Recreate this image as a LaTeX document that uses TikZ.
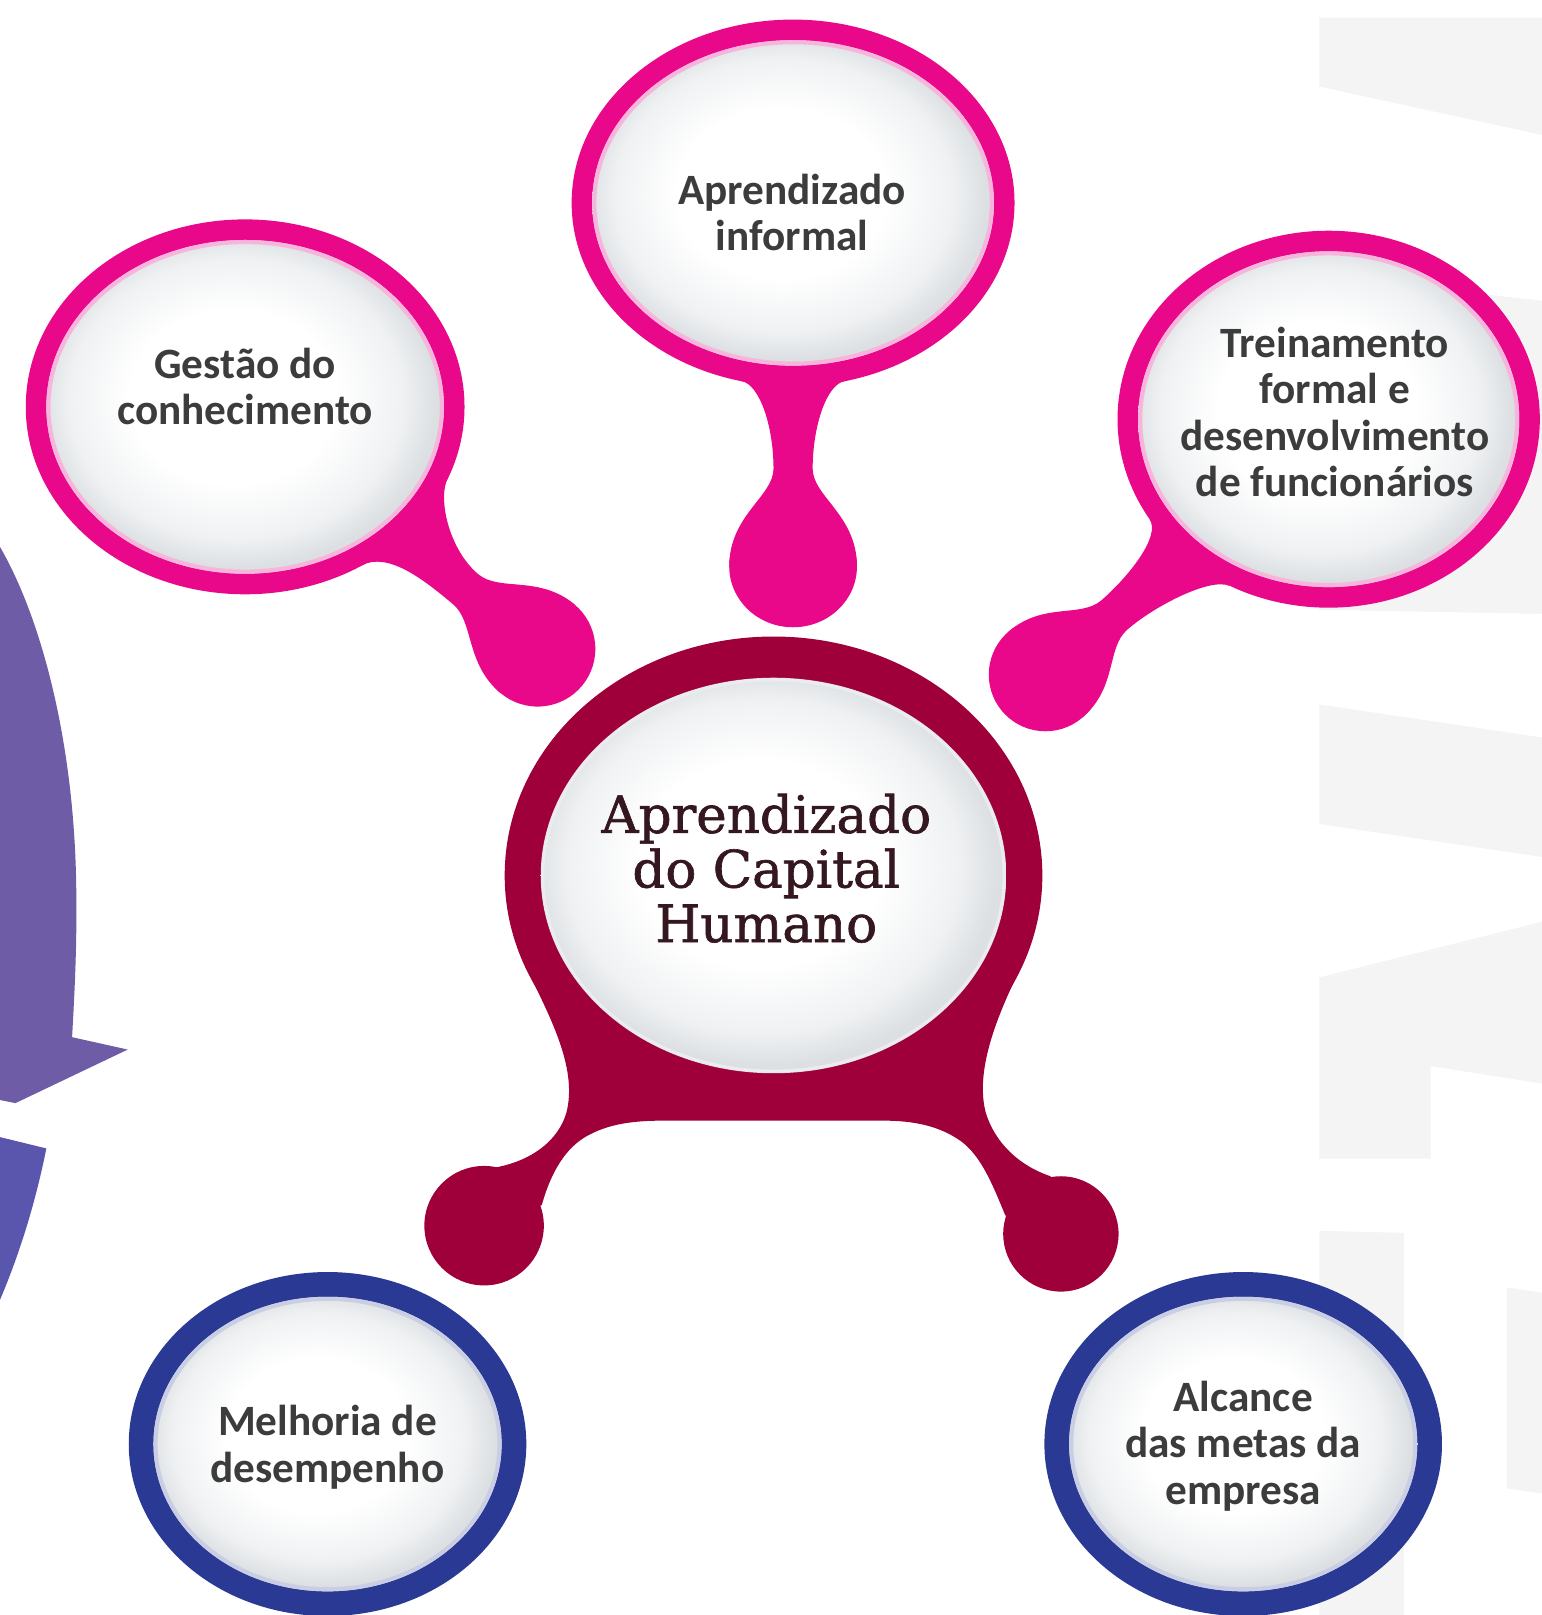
\documentclass[tikz,border=0pt]{standalone}
\usepackage{fontspec}
\setmainfont{Carlito}
\newfontfamily\slabfont[FakeBold=1.2]{DejaVu Serif}
\definecolor{pinkc}{HTML}{E9088A}
\definecolor{redc}{HTML}{A0003A}
\definecolor{bluec}{HTML}{2A3A94}
\definecolor{purpc}{HTML}{6E5CA7}
\definecolor{violc}{HTML}{5A56AE}
\definecolor{wmark}{HTML}{F4F4F4}
\definecolor{txtc}{HTML}{3C3C3C}
\definecolor{ctxt}{HTML}{35181F}
\definecolor{rimgray}{HTML}{DCE0E3}
\pgfdeclareradialshading{bubshade}{\pgfpoint{-2bp}{2bp}}{color(0bp)=(white); color(13bp)=(white); color(21bp)=(rimgray!45!white); color(25bp)=(rimgray); color(50bp)=(rimgray)}
\begin{document}
\begin{tikzpicture}[x=0.5pt,y=-0.5pt,
  btxt/.style={align=center, inner sep=0pt, text=txtc, font=\fontsize{21}{22.5}\selectfont\bfseries},
  ctxtstyle/.style={align=center, inner sep=0pt, text=ctxt, font=\slabfont\fontsize{25}{26.5}\selectfont},
  wm/.style={fill=wmark},
  innerbub/.style={shading=bubshade}]
\useasboundingbox (0,0) rectangle (1497,1568);
\fill[white] (0,0) rectangle (1497,1568);
% watermark
\fill[wm] (1281,17) -- (1497,17) -- (1497,131) -- (1281,84) -- cycle;
\fill[wm] (1281,268) -- (1497,292) -- (1497,596) -- (1281,592) -- cycle;
\fill[wm] (1281,684) -- (1497,716) -- (1497,832) -- (1281,800) -- cycle;
\fill[wm] (1281,949) -- (1497,895) -- (1497,1052) -- (1389,1035) -- (1389,1125) -- (1281,1125) -- cycle;
\fill[wm] (1281,1195) -- (1363,1197) -- (1363,1568) -- (1281,1568) -- cycle;
\fill[wm] (1463,1250) -- (1497,1255) -- (1497,1450) -- (1463,1445) -- cycle;
% purple arrow pieces
\fill[purpc] (0,531) .. controls (40,600) and (72,720) .. (74,860) .. controls (75,920) and (72,970) .. (70,1007) -- (124,1019) -- (15,1071) -- (0,1068) -- cycle;
\fill[violc] (0,1104) -- (45,1115) .. controls (35,1165) and (20,1215) .. (0,1262) -- cycle;
% centres
\coordinate (cG) at (238,395);
\coordinate (cI) at (770,197);
\coordinate (cT) at (1290,407);
\coordinate (cC) at (751,850);
\coordinate (cM) at (318,1402);
\coordinate (cA) at (1207,1402);
\coordinate (bG) at (522,630);
\coordinate (bI) at (770,550);
\coordinate (bT) at (1015,655);
\coordinate (bL) at (470,1190);
\coordinate (bR) at (1030,1198);
% pink arms (ring -> neck -> drop)
\fill[pinkc] (435,463) .. controls (424,486) and (437.4,534.9) .. (464.2,557.4)
  .. controls (484.9,574.8) and (523.5,558) .. (558,587) -- (bG) -- (486,673)
  .. controls (451.5,644) and (460.5,604) .. (439.8,586.6)
  .. controls (413,564.1) and (377,535) .. (351,549) -- cycle;
\fill[pinkc] (bG) circle[radius=28pt];
\fill[pinkc] (820,370) .. controls (802,373.5) and (789,415) .. (789,455)
  .. controls (789,482) and (832,500) .. (832,550) -- (bI) -- (708,550)
  .. controls (708,500) and (751,482) .. (751,455)
  .. controls (751,415) and (738,373.5) .. (720,370) -- cycle;
\fill[pinkc] (bI) ellipse[x radius=62,y radius=59];
\fill[pinkc] (1116,504) .. controls (1127.5,520) and (1095.9,559.7) .. (1069.5,582.7)
  .. controls (1049.1,600.4) and (1012.9,584) .. (978.9,613.5) -- (bT) -- (1051.1,696.5)
  .. controls (1085.1,667) and (1074.1,629) .. (1094.5,611.3)
  .. controls (1120.9,588.3) and (1176,560) .. (1194,569) -- cycle;
\fill[pinkc] (bT) circle[radius=27.5pt];
% pink bubbles
\fill[pinkc] (cG) ellipse[x radius=213,y radius=182];
\path[innerbub] (cG) ellipse[x radius=193,y radius=162];
\draw[pinkc!30, line width=2pt] (cG) ellipse[x radius=191,y radius=160];
\fill[pinkc] (cI) ellipse[x radius=215,y radius=178];
\path[innerbub] (cI) ellipse[x radius=195,y radius=158];
\draw[pinkc!30, line width=2pt] (cI) ellipse[x radius=193,y radius=156];
\fill[pinkc] (cT) ellipse[x radius=205,y radius=183];
\path[innerbub] (cT) ellipse[x radius=185,y radius=163];
\draw[pinkc!30, line width=2pt] (cT) ellipse[x radius=183,y radius=161];
% centre shape
\fill[redc] (516,950) .. controls (538,995) and (560,1040) .. (550,1080)
  .. controls (542,1108) and (515,1128) .. (478,1134) -- (bL) -- (526,1170)
  .. controls (533,1145) and (545,1118) .. (568,1104)
  .. controls (590,1091) and (615,1088) .. (645,1088) -- (857,1088)
  .. controls (887,1088) and (912,1093) .. (933,1108)
  .. controls (952,1122) and (963,1148) .. (976,1180) -- (bR) -- (1020,1142)
  .. controls (990,1132) and (966,1110) .. (957,1080)
  .. controls (948,1045) and (962,1000) .. (986,950) -- cycle;
\fill[redc] (bL) circle[radius=29pt];
\fill[redc] (bR) circle[radius=28pt];
\fill[redc] (cC) ellipse[x radius=261,y radius=232];
\path[innerbub] (cC) ellipse[x radius=226,y radius=192];
\draw[white!85!gray, line width=1.5pt] (cC) ellipse[x radius=224,y radius=190];
% blue bubbles
\fill[bluec] (cM) ellipse[x radius=193,y radius=167];
\path[innerbub] (cM) ellipse[x radius=169,y radius=143];
\draw[bluec!25, line width=2pt] (cM) ellipse[x radius=167,y radius=141];
\fill[bluec] (cA) ellipse[x radius=193,y radius=167];
\path[innerbub] (cA) ellipse[x radius=169,y radius=143];
\draw[bluec!25, line width=2pt] (cA) ellipse[x radius=167,y radius=141];
% texts
\node[btxt] (tgestao) at (238,375) {Gestão do\\conhecimento};
\node[btxt] (tinformal) at (769,206) {Aprendizado\\informal};
\node[btxt] (ttrein) at (1296,400) {Treinamento\\formal e\\desenvolvimento\\de funcionários};
\node[ctxtstyle] (tcentre) at (744,843) {Aprendizado\\do Capital\\Humano};
\node[btxt] (tmelhoria) at (318,1405) {Melhoria de\\desempenho};
\node[btxt] (talcance) at (1207,1404) {Alcance\\das metas da\\empresa};
\end{tikzpicture}
\end{document}
